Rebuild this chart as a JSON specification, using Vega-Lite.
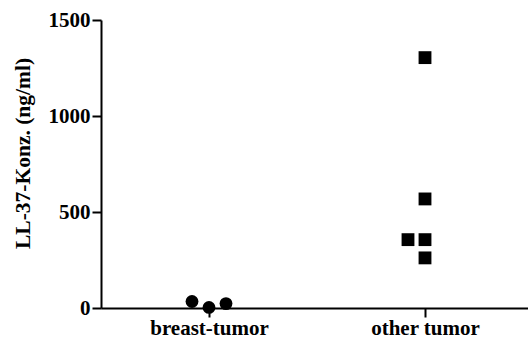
{
  "$schema": "https://vega.github.io/schema/vega-lite/v6.json",
  "autosize": "none",
  "width": 427,
  "height": 288,
  "padding": {"left": 101, "top": 20, "right": 0, "bottom": 31},
  "background": "white",
  "config": {
    "view": {"stroke": null},
    "axis": {
      "domainColor": "black",
      "domainWidth": 2,
      "tickColor": "black",
      "tickWidth": 2,
      "tickSize": 9,
      "grid": false,
      "labelFont": "Liberation Serif",
      "labelFontWeight": "bold",
      "labelFontSize": 21,
      "labelColor": "black",
      "titleFont": "Liberation Serif",
      "titleFontWeight": "bold",
      "titleFontSize": 21.5,
      "titleColor": "black"
    }
  },
  "data": {
    "values": [
      {"group": "breast-tumor", "konz": 34, "offset": -1},
      {"group": "breast-tumor", "konz": 3, "offset": 0},
      {"group": "breast-tumor", "konz": 23, "offset": 1},
      {"group": "other tumor", "konz": 1304, "offset": 0},
      {"group": "other tumor", "konz": 568, "offset": 0},
      {"group": "other tumor", "konz": 356, "offset": -1},
      {"group": "other tumor", "konz": 356, "offset": 0},
      {"group": "other tumor", "konz": 261, "offset": 0}
    ]
  },
  "mark": {"type": "point", "filled": true, "opacity": 1, "size": 165, "color": "black"},
  "encoding": {
    "x": {
      "field": "group",
      "type": "nominal",
      "sort": ["breast-tumor", "other tumor"],
      "scale": {"type": "point", "padding": 0.5, "range": [0, 432]},
      "axis": {"title": null, "labelAngle": 0, "labelPadding": 0, "labelBaseline": "top"}
    },
    "xOffset": {
      "field": "offset",
      "type": "quantitative",
      "scale": {"domain": [-1, 1], "range": [-17, 17]}
    },
    "y": {
      "field": "konz",
      "type": "quantitative",
      "scale": {"domain": [0, 1500], "nice": false},
      "axis": {
        "title": "LL-37-Konz. (ng/ml)",
        "values": [0, 500, 1000, 1500],
        "format": "d",
        "labelPadding": 2,
        "titlePadding": 14,
        "titleY": 133
      }
    },
    "shape": {
      "field": "group",
      "type": "nominal",
      "scale": {"domain": ["breast-tumor", "other tumor"], "range": ["circle", "square"]},
      "legend": null
    }
  }
}
